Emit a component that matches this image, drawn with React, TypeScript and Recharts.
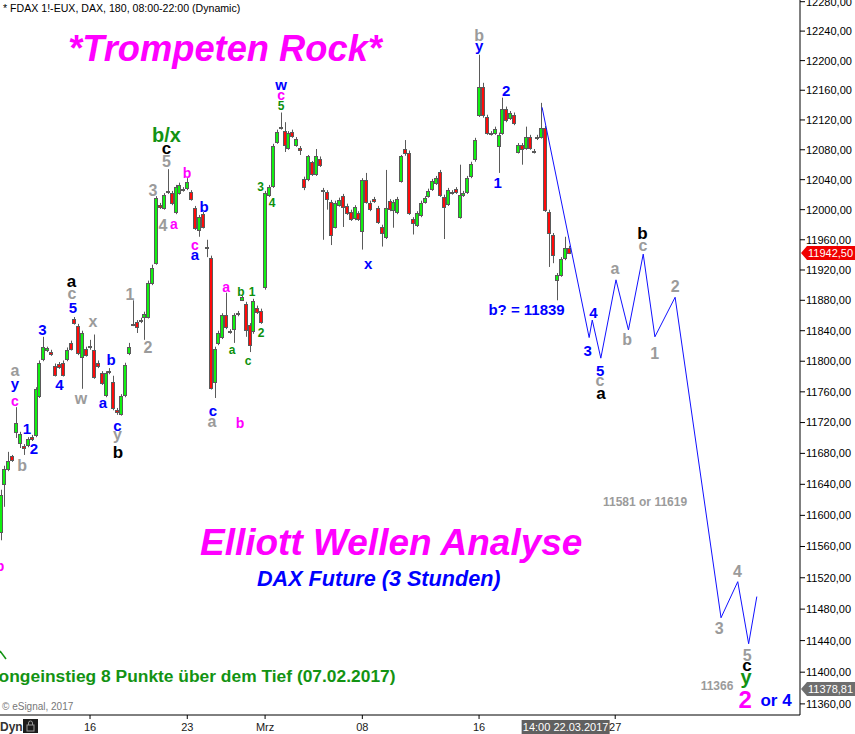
import React from 'react';
import { ComposedChart, Bar, Scatter, XAxis, YAxis, ReferenceDot } from 'recharts';

const FONT = '"Liberation Sans", Arial, sans-serif';

// ---------- candles (180-minute bars, index 0 = 16.02.2017 08:00) ----------
const FIRST_BAR = -23;
const opens = [11579,11640,11660,11676,11708,11694,11690,11691,11701,11704,11755,11803,11815,11812,11794,11797,11798,11803,11824,11856,11846,11806,11816,
  11820,11815,11798,11785,11756,11787,11773,11736,11731,11756,11811,11849,11852,11854,11858,11858,11903,11929,12006,12002,12025,12022,11997,12022,12028,
  12029,12024,12002,11973,11994,11951,11936,11773,11824,11832,11861,11840,11842,11863,11880,11875,11848,11839,11870,11866,
  11898,12020,12032,12091,12111,12105,12083,12104,12087,12083,12041,12041,12063,12048,12068,12026,12024,12010,11977,12006,12018,12005,11997,11989,11996,
  11971,12040,12009,12014,12002,11977,11964,12012,12000,11997,12038,12081,12076,11988,11980,11993,12010,12018,12028,12036,12050,12017,12008,12024,12028,11990,12020,12024,12045,12067,
  12127,12165,12124,12103,12103,12085,12103,12135,12123,12127,12077,12087,12083,12097,12079,12097,12097,12109,11997,11967,11907,11914,11936,11949];
const highs = [11633,11664,11682,11678,11740,11708,11692,11701,11704,11766,11801,11832,11819,11815,11797,11799,11801,11818,11827,11858,11849,11840,11819,
  11828,11835,11801,11787,11787,11791,11781,11739,11757,11798,11824,11880,11854,11857,11865,11906,11927,12018,12009,12022,12054,12025,12033,12036,12030,
  12042,12026,12005,11993,11997,11960,11939,11819,11840,11863,11890,11842,11863,11866,11886,11878,11850,11882,11873,11869,
  12025,12033,12088,12107,12130,12117,12105,12107,12097,12085,12044,12073,12065,12081,12071,12029,12026,12013,12012,12016,12021,12008,12000,12006,11998,
  12042,12049,12012,12017,12005,11980,12053,12014,12013,12017,12073,12093,12079,11990,11998,12012,12018,12028,12041,12045,12053,12020,12029,12026,12030,12060,12025,12045,12064,12096,
  12208,12170,12127,12105,12111,12103,12150,12138,12132,12130,12089,12089,12111,12100,12081,12100,12143,12112,12000,11969,11916,11937,11964,11952];
const lows = [11568,11611,11657,11669,11700,11687,11678,11688,11696,11701,11752,11800,11812,11807,11780,11790,11780,11800,11814,11848,11808,11764,11806,
  11815,11777,11791,11769,11753,11783,11736,11730,11729,11753,11808,11846,11837,11850,11828,11856,11900,11927,12001,12000,12021,12006,11994,12020,12024,
  12026,12012,11973,11964,11975,11937,11763,11752,11821,11829,11842,11836,11824,11859,11879,11832,11812,11836,11862,11849,
  11894,12017,12029,12088,12107,12077,12080,12096,12084,12073,12026,12038,12045,12045,12057,11960,12000,11953,11975,12004,11977,11993,11985,11986,11985,
  11947,12008,11998,12009,11981,11951,11961,11998,11976,11994,12036,12072,11993,11967,11977,11990,12008,12016,12025,12033,12017,11961,12005,12020,12021,11988,12017,12021,12042,12064,
  12124,12123,12100,12099,12100,12049,12100,12117,12120,12113,12075,12060,12080,12080,12075,12093,12095,11997,11924,11929,11880,11911,11933,11941];
const closes = [11626,11660,11670,11672,11720,11705,11687,11699,11699,11764,11798,11819,11817,11810,11782,11793,11782,11815,11816,11850,11811,11837,11808,
  11819,11780,11794,11772,11785,11786,11739,11734,11755,11795,11818,11848,11845,11853,11862,11903,11922,12016,12004,12020,12024,12009,12030,12033,12026,
  12037,12014,11976,11990,11977,11949,11765,11816,11837,11861,11845,11838,11861,11862,11884,11841,11821,11879,11865,11852,
  12022,12030,12085,12104,12109,12087,12103,12099,12095,12080,12030,12071,12048,12071,12060,12025,12014,11967,12009,12013,12004,11996,11988,12004,11988,
  12040,12010,12001,12012,11984,11969,12002,12001,12010,12014,12071,12075,11996,11982,11996,12009,12016,12025,12038,12042,12020,12004,12026,12022,12024,12020,12022,12042,12061,12093,
  12165,12126,12103,12101,12108,12100,12135,12120,12130,12116,12087,12081,12097,12083,12077,12096,12109,12000,11969,11940,11914,11935,11949,11942.5];

// ---------- axes ----------
const dayTicks = [0, 25, 45, 70, 100, 135];
const dayLabels = ['16', '23', 'Mrz', '08', '16', '27'];
const priceTicks = [11360,11400,11440,11480,11520,11560,11600,11640,11680,11720,11760,11800,11840,11880,11920,11960,12000,12040,12080,12120,12160,12200,12240,12280];
const X_DOMAIN: [number, number] = [-23.14, 182.5];
const Y_DOMAIN: [number, number] = [11346, 12282.3];

// ---------- projected path (bar index, price) ----------
const projI = [116.2, 128.3, 129.1, 131.3, 135.2, 138.4, 142.2, 145.2, 150.4, 162.2, 166.5, 169.3, 171.4];
const projP = [12137, 11831, 11854, 11804, 11907, 11841, 11941, 11832, 11884, 11469, 11515, 11436, 11496];

// ---------- markers ----------
const lastPrice = 11942.5;
const refPrice = 11378.81;
const cursorBar = 122;
const cursorText = '14:00 22.03.2017';

// ---------- wave labels [text, bar index, price] ----------
const grayLabels: [string, number, number][] = [
  ['a', -19.28, 11786], ['b', -17.48, 11665], ['c', -4.63, 11888], ['x', 0.77, 11850], ['w', -2.31, 11750], ['y', 7.07, 11700],
  ['1', 10.28, 11888], ['2', 14.91, 11818], ['3', 16.2, 12026], ['4', 18.77, 11979], ['5', 19.67, 12064], ['a', 31.36, 11720],
  ['b', 100, 12234], ['c', 131.11, 11773], ['a', 134.96, 11920], ['b', 138.05, 11829], ['c', 142.16, 11951], ['1', 145.12, 11811],
  ['2', 150.39, 11898], ['3', 161.7, 11456], ['4', 166.45, 11528], ['5', 168.9, 11422],
];
const blueLabels: [string, number, number][] = [
  ['y', -19.28, 11766], ['1', -16.2, 11712], ['2', -14.4, 11686], ['3', -12.21, 11842], ['4', -7.84, 11770], ['5', -4.37, 11871],
  ['b', 5.4, 11802], ['a', 3.34, 11744], ['c', 7.07, 11714], ['b', 29.31, 12004], ['a', 26.99, 11939], ['c', 31.62, 11734],
  ['w', 49.1, 12166], ['x', 71.47, 11927], ['y', 100, 12216], ['2', 106.94, 12160], ['1', 104.76, 12036], ['4', 129.43, 11864],
  ['3', 127.89, 11814], ['5', 131.11, 11788],
];
const magentaLabels: [string, number, number][] = [
  ['c', -19.28, 11747], ['b', -23.14, 11535], ['a', 21.59, 11979], ['b', 24.94, 12049], ['c', 26.99, 11952], ['b', 38.56, 11720],
  ['a', 34.96, 11896], ['c', 49.1, 12152],
];
const blackLabels: [string, number, number][] = [
  ['a', -4.76, 11903], ['b', 7.2, 11682], ['c', 19.67, 12081], ['a', 131.36, 11757], ['b', 142.03, 11969], ['c', 168.9, 11407],
];
const greenLabels: [string, number, number][] = [
  ['a', 36.5, 11814], ['b', 38.82, 11892], ['1', 41.65, 11891], ['c', 40.62, 11799], ['2', 43.96, 11837], ['3', 43.83, 12030],
  ['4', 46.79, 12009], ['5', 49.1, 12139],
];
const bigGreenLabels: [string, number, number][] = [['b/x', 19.67, 12100], ['y', 168.64, 11388]];
const bigMagentaLabels: [string, number, number][] = [['2', 168.38, 11366]];
const bigBlueLabels: [string, number, number][] = [['or 4', 176.35, 11365]];
const noteBlueLabels: [string, number, number][] = [['b? = 11839', 112.21, 11868]];
const noteGrayLabels: [string, number, number][] = [['11581 or 11619', 142.67, 11617], ['11366', 161.18, 11383]];

// ---------- build tables ----------
const candles = opens.map((o, k) => ({ i: FIRST_BAR + k, o, h: highs[k], l: lows[k], c: closes[k] }));
const proj = projI.map((i, k) => ({ i, p: projP[k] }));
const toPts = (arr: [string, number, number][]) => arr.map(([text, i, p]) => ({ text, i, p }));

const GREEN = '#10f010';
const RED = '#ff0a0a';
const EDGE = '#5a5a5a';

function Candle(props: any) {
  const { x, y, width, height, payload } = props;
  if (!payload || x == null || y == null || height == null) return <g />;
  const top = Math.min(y, y + height);
  const bot = Math.max(y, y + height);
  const lh = Math.log(payload.h);
  const ll = Math.log(payload.l);
  const span = lh - ll;
  const yOf = (v: number) => (span > 0 ? top + ((bot - top) * (lh - Math.log(v))) / span : top);
  const cx = Math.round(x + width / 2) + 0.5;
  const up = payload.c >= payload.o;
  const bTop = Math.round(yOf(Math.max(payload.o, payload.c))) + 0.5;
  const bBot = Math.round(yOf(Math.min(payload.o, payload.c))) + 0.5;
  return (
    <g>
      <line x1={cx} x2={cx} y1={top} y2={bot} stroke={EDGE} strokeWidth={1} />
      <rect x={cx - 2} y={bTop} width={3} height={Math.max(bBot - bTop, 1)} fill={up ? GREEN : RED} stroke={EDGE} strokeWidth={1} />
    </g>
  );
}

const glyphDy = (t: string) => {
  if (t.length > 1) return '0.36em';
  if ('acewx'.includes(t)) return '0.27em';
  if (t === 'y') return '0.12em';
  return '0.36em';
};

const labelShape = (color: string, size: number) => (props: any) => {
  const { cx, cy } = props;
  const text = props.payload?.text ?? props.text;
  if (cx == null || cy == null) return <g />;
  return (
    <text x={cx} y={cy} dy={glyphDy(text)} textAnchor="middle" fill={color} fontSize={size} fontWeight="bold" fontFamily={FONT}>
      {text}
    </text>
  );
};

const noShape = () => <g />;

const priceTag = (value: number, fill: string) => (props: any) => {
  const { cx, cy } = props;
  if (cy == null) return <g />;
  const x0 = cx + 1;
  return (
    <g>
      <polygon points={`${x0},${cy} ${x0 + 6},${cy - 7} 855,${cy - 7} 855,${cy + 7} ${x0 + 6},${cy + 7}`} fill={fill} />
      <text x={x0 + 7} y={cy} dy="0.36em" fill="#fff" fontSize={11} fontFamily={FONT}>
        {value.toFixed(2).replace('.', ',')}
      </text>
    </g>
  );
};

const cursorTag = (props: any) => {
  const { cx, cy } = props;
  if (cx == null) return <g />;
  return (
    <g>
      <rect x={cx - 43} y={cy + 5} width={88} height={14} fill="#606060" />
      <text x={cx + 1} y={cy + 12} dy="0.36em" textAnchor="middle" fill="#fff" fontSize={11} fontFamily={FONT}>
        {cursorText}
      </text>
    </g>
  );
};

const labelGroups: { data: [string, number, number][]; color: string; size: number }[] = [
  { data: grayLabels, color: '#9b9b9b', size: 16 },
  { data: blueLabels, color: '#0000ff', size: 15 },
  { data: magentaLabels, color: '#ff00ff', size: 14 },
  { data: blackLabels, color: '#000000', size: 17 },
  { data: greenLabels, color: '#0c900c', size: 12 },
  { data: bigGreenLabels, color: '#139313', size: 20 },
  { data: bigMagentaLabels, color: '#ff00ff', size: 24 },
  { data: bigBlueLabels, color: '#0000ff', size: 17 },
  { data: noteBlueLabels, color: '#0000ff', size: 15 },
  { data: noteGrayLabels, color: '#9b9b9b', size: 12 },
];

export default function App() {
  return (
    <div style={{ position: 'absolute', left: 0, top: 0, width: 855, height: 734, background: '#fff', overflow: 'hidden' }}>
      <ComposedChart width={855} height={734} data={candles} margin={{ top: 0, right: 0, bottom: 0, left: 0 }}>
        <XAxis
          type="number"
          dataKey="i"
          domain={X_DOMAIN}
          allowDataOverflow
          ticks={dayTicks}
          interval={0}
          tickFormatter={(v: number) => dayLabels[dayTicks.indexOf(v)] ?? ''}
          height={19}
          tickSize={4}
          tickMargin={4}
          axisLine={{ stroke: '#000' }}
          tickLine={{ stroke: '#000' }}
          tick={{ fill: '#1a1a1a', fontSize: 11, fontFamily: FONT }}
        />
        <YAxis
          orientation="right"
          scale="log"
          domain={Y_DOMAIN}
          allowDataOverflow
          ticks={priceTicks}
          interval={0}
          width={55}
          tickSize={5}
          tickMargin={1}
          tickFormatter={(v: number) => v.toFixed(2).replace('.', ',')}
          axisLine={{ stroke: '#000' }}
          tickLine={{ stroke: '#000' }}
          tick={{ fill: '#000', fontSize: 11, fontFamily: FONT }}
        />
        <Bar dataKey={(d: any) => [d.l, d.h]} barSize={4} shape={Candle} isAnimationActive={false} />
        <Scatter data={proj} dataKey="p" line={{ stroke: '#1010ff', strokeWidth: 1 }} shape={noShape} isAnimationActive={false} />
        {labelGroups.map((g, k) => (
          <Scatter key={k} data={toPts(g.data)} dataKey="p" shape={labelShape(g.color, g.size)} isAnimationActive={false} />
        ))}
        <ReferenceDot x={X_DOMAIN[1]} y={lastPrice} r={0} ifOverflow="visible" shape={priceTag(lastPrice, '#f00000')} />
        <ReferenceDot x={X_DOMAIN[1]} y={refPrice} r={0} ifOverflow="visible" shape={priceTag(refPrice, '#6e6e6e')} />
        <ReferenceDot x={cursorBar} y={Y_DOMAIN[0]} r={0} ifOverflow="visible" shape={cursorTag} />
      </ComposedChart>
      <svg width={855} height={734} style={{ position: 'absolute', left: 0, top: 0, pointerEvents: 'none' }}>
        <text x={3} y={12} fontSize={10.6} fontFamily={FONT} fill="#000">* FDAX 1!-EUX, DAX, 180, 08:00-22:00 (Dynamic)</text>
        <text x={68} y={61} fontSize={36.3} fontWeight="bold" fontStyle="italic" fontFamily={FONT} fill="#ff00ff">*Trompeten Rock*</text>
        <text x={200} y={555} fontSize={37} fontWeight="bold" fontStyle="italic" fontFamily={FONT} fill="#ff00ff">Elliott Wellen Analyse</text>
        <text x={257} y={586} fontSize={21.6} fontWeight="bold" fontStyle="italic" fontFamily={FONT} fill="#0000ff">DAX Future (3 Stunden)</text>
        <text x={-12} y={682} fontSize={17.4} fontWeight="bold" fontFamily={FONT} fill="#139313">Longeinstieg 8 Punkte über dem Tief (07.02.2017)</text>
        <line x1={0} y1={651} x2={6} y2={659} stroke="#139313" strokeWidth={1.5} />
        <text x={2} y={710} fontSize={10} fontFamily={FONT} fill="#777">© eSignal, 2017</text>
        <text x={0} y={731} fontSize={12} fontWeight="bold" fontFamily={FONT} fill="#333">Dyn</text>
        <rect x={23} y={719} width={15} height={14} fill="#1c1c1c" />
        <rect x={27} y={725} width={7} height={6} fill="none" stroke="#9a9a9a" strokeWidth={1} />
        <path d="M28.5,725 v-2 a2,2 0 0 1 4,0 v2" fill="none" stroke="#9a9a9a" strokeWidth={1} />
      </svg>
    </div>
  );
}
